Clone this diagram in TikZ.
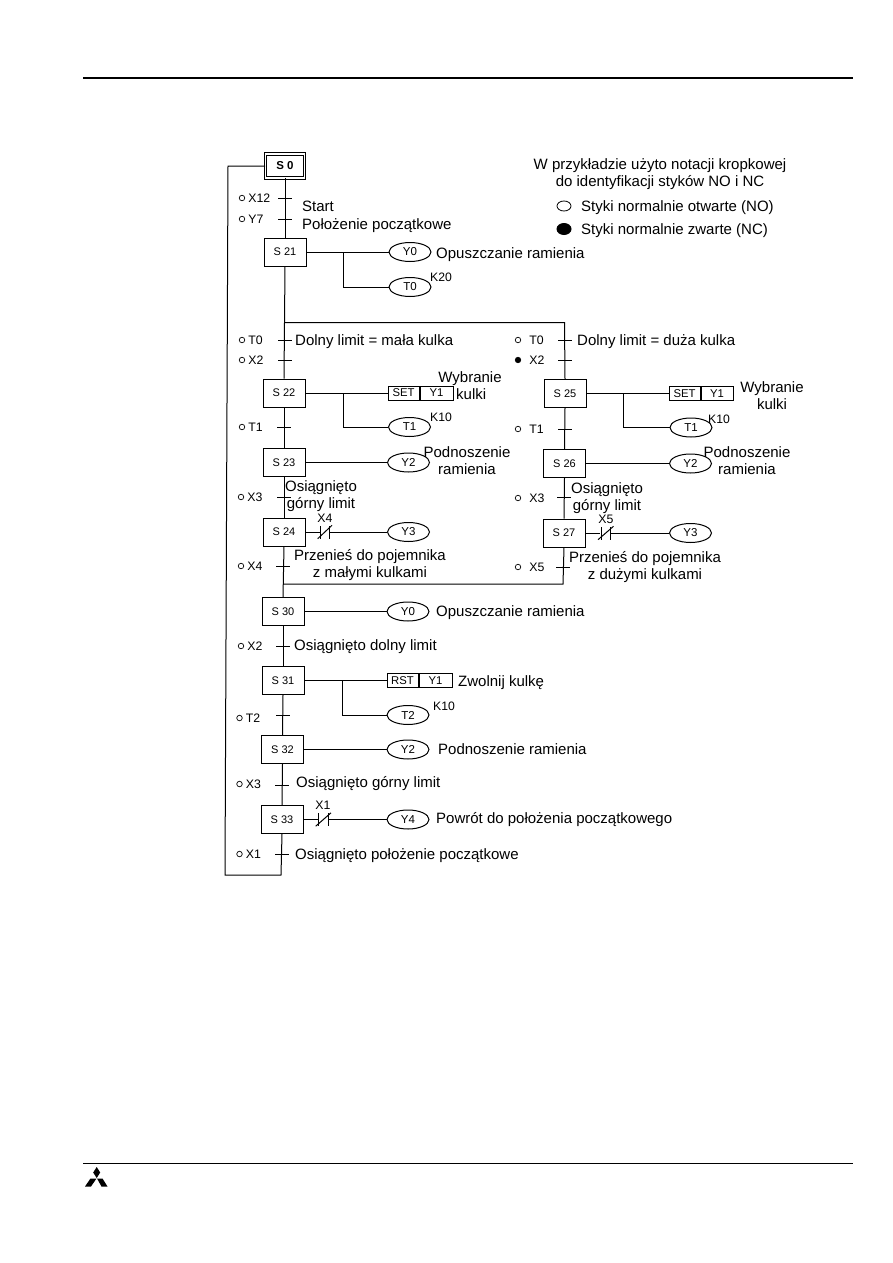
\documentclass[tikz,border=0pt]{standalone}
\usepackage{fontspec}
\setmainfont{Liberation Sans}
\usetikzlibrary{positioning,shapes.geometric}

\tikzset{
stepbox/.style={draw,line width=1pt,minimum width=42pt,minimum height=28pt,inner sep=0pt,font=\fontsize{11}{13}\selectfont},
outoval/.style={draw,ellipse,line width=1pt,minimum width=42pt,minimum height=19pt,inner sep=0pt,font=\fontsize{11.5}{13}\selectfont},
cellbox/.style={draw,line width=1pt,minimum height=14pt,inner sep=0pt,font=\fontsize{11.3}{13}\selectfont},
tickbar/.style={fill=black,minimum width=14pt,minimum height=1pt,inner sep=0pt},
nobar/.style={fill=black,minimum width=1pt,minimum height=13pt,inner sep=0pt},
dotmark/.style={draw,circle,line width=0.7pt,minimum size=5.5pt,inner sep=0pt},
contlbl/.style={inner sep=0pt,font=\fontsize{12.3}{14}\selectfont},
smalltxt/.style={inner sep=0pt,font=\fontsize{12.2}{14}\selectfont},
txt/.style={inner sep=0pt,anchor=west,text height=10.6pt,text depth=3pt,yshift=-1.5pt,font=\fontsize{15}{17}\selectfont},
ctxt/.style={inner sep=0pt,align=center,yshift=-1pt,font=\fontsize{15}{17}\selectfont},
link/.style={line width=1pt}
}

\begin{document}
\begin{tikzpicture}[x=1pt,y=-1pt]

\useasboundingbox (0,0) rectangle (893,1263);

%%%%%%%%%%%%%%%%%%%%%%%%%%%%%%%%%%%%%%%%%%%%%%%%%%%%%%
% PAGE RULES AND LOGO
%%%%%%%%%%%%%%%%%%%%%%%%%%%%%%%%%%%%%%%%%%%%%%%%%%%%%%

\draw[line width=2pt] (83,77.5)--(852.5,77.5);
\draw[line width=1.5pt] (83,1163.3)--(852.5,1163.3);
\fill (96.7,1167)--(100.2,1172.5)--(96.7,1178)--(93.2,1172.5)--cycle;
\fill (90.5,1178.5)--(96.5,1178.5)--(91,1186.5)--(85,1186.5)--cycle;
\fill (97,1178.5)--(102.5,1178.5)--(107.5,1186.5)--(101.5,1186.5)--cycle;

%%%%%%%%%%%%%%%%%%%%%%%%%%%%%%%%%%%%%%%%%%%%%%%%%%%%%%
% LEGEND
%%%%%%%%%%%%%%%%%%%%%%%%%%%%%%%%%%%%%%%%%%%%%%%%%%%%%%

\node[ctxt](legend) at (660,173){W przykładzie użyto notacji kropkowej\\do identyfikacji styków NO i NC};
\node[draw,ellipse,line width=0.8pt,minimum width=14pt,minimum height=10pt,inner sep=0pt](opendot) at (564,206){};
\node[fill=black,ellipse,minimum width=15pt,minimum height=12pt,inner sep=0pt](closeddot) at (564,229){};
\node[txt](openlbl) at (581,206){Styki normalnie otwarte (NO)};
\node[txt](closedlbl) at (581,229){Styki normalnie zwarte (NC)};

%%%%%%%%%%%%%%%%%%%%%%%%%%%%%%%%%%%%%%%%%%%%%%%%%%%%%%
% STEPS
%%%%%%%%%%%%%%%%%%%%%%%%%%%%%%%%%%%%%%%%%%%%%%%%%%%%%%

\node[stepbox,double,double distance=1.5pt,line width=0.9pt,minimum width=39pt,minimum height=24pt,font=\fontsize{11.5}{13}\bfseries\selectfont](s0) at (285,166){S 0};
\node[stepbox](s21) at (285,252){S 21};
\node[stepbox](s22) at (284,393){S 22};
\node[stepbox](s23) at (284,462.5){S 23};
\node[stepbox](s24) at (284,532){S 24};
\node[stepbox](s25) at (565,393.5){S 25};
\node[stepbox](s26) at (564.5,463.5){S 26};
\node[stepbox](s27) at (564,533){S 27};
\node[stepbox](s30) at (283,611.5){S 30};
\node[stepbox](s31) at (283,680.5){S 31};
\node[stepbox](s32) at (282.5,749.5){S 32};
\node[stepbox](s33) at (282,819.5){S 33};

%%%%%%%%%%%%%%%%%%%%%%%%%%%%%%%%%%%%%%%%%%%%%%%%%%%%%%
% TRANSITIONS
%%%%%%%%%%%%%%%%%%%%%%%%%%%%%%%%%%%%%%%%%%%%%%%%%%%%%%

\node[tickbar](tx12) at (285,198){};
\node[tickbar](ty7) at (285,219){};
\node[tickbar](tt0) at (284.5,340){};
\node[tickbar](tx2) at (284.5,360){};
\node[tickbar](tt1) at (284,427){};
\node[tickbar](tx3) at (283.5,497){};
\node[tickbar](tx4) at (283,566){};
\node[tickbar](tx2b) at (283,646){};
\node[tickbar](tt2) at (283,715){};
\node[tickbar](tx3b) at (282,785){};
\node[tickbar](tx1) at (281.5,854){};
\node[tickbar](rt0) at (564.5,340){};
\node[tickbar](rx2) at (564.5,360){};
\node[tickbar](rt1) at (564.5,429){};
\node[tickbar](rx3) at (563.5,497){};
\node[tickbar](rx5) at (563,567){};

\node[dotmark](dx12) at (242,198){};
\node[dotmark](dy7) at (242,219){};
\node[dotmark](dt0) at (242,340){};
\node[dotmark](dx2) at (242,360){};
\node[dotmark](dt1) at (242,427){};
\node[dotmark](dx3) at (241,497){};
\node[dotmark](dx4) at (241,566){};
\node[dotmark](dx2b) at (241,646){};
\node[dotmark](dt2) at (239.5,718){};
\node[dotmark](dx3b) at (239.5,784){};
\node[dotmark](dx1) at (239.5,854){};
\node[dotmark](drt0) at (518,340){};
\node[dotmark,fill=black](drx2) at (518,360){};
\node[dotmark](drt1) at (518,429){};
\node[dotmark](drx3) at (518,498){};
\node[dotmark](drx5) at (518,567){};

\node[contlbl,right=3pt of dx12](lx12){X12};
\node[contlbl,right=3pt of dy7](ly7){Y7};
\node[contlbl,right=3pt of dt0](lt0){T0};
\node[contlbl,right=3pt of dx2](lx2){X2};
\node[contlbl,right=3pt of dt1](lt1){T1};
\node[contlbl,right=3pt of dx3](lx3){X3};
\node[contlbl,right=3pt of dx4](lx4){X4};
\node[contlbl,right=3pt of dx2b](lx2b){X2};
\node[contlbl,right=3pt of dt2](lt2){T2};
\node[contlbl,right=3pt of dx3b](lx3b){X3};
\node[contlbl,right=3pt of dx1](lx1){X1};
\node[contlbl,right=8pt of drt0](lrt0){T0};
\node[contlbl,right=8pt of drx2](lrx2){X2};
\node[contlbl,right=8pt of drt1](lrt1){T1};
\node[contlbl,right=8pt of drx3](lrx3){X3};
\node[contlbl,right=8pt of drx5](lrx5){X5};

%%%%%%%%%%%%%%%%%%%%%%%%%%%%%%%%%%%%%%%%%%%%%%%%%%%%%%
% OUTPUTS
%%%%%%%%%%%%%%%%%%%%%%%%%%%%%%%%%%%%%%%%%%%%%%%%%%%%%%

\node[outoval](y0a) at (410,252){Y0};
\node[outoval](t0) at (410,287){T0};
\node[cellbox,minimum width=31pt](set22) at (403.5,393){SET};
\node[cellbox,minimum width=33pt,right=0pt of set22](y22){Y1};
\node[outoval](t1a) at (409.5,427){T1};
\node[outoval](y2a) at (408.5,462.5){Y2};
\node[outoval](y3a) at (408.5,532){Y3};
\node[cellbox,minimum width=31pt](set25) at (684.5,393.5){SET};
\node[cellbox,minimum width=32pt,right=0pt of set25](y25){Y1};
\node[outoval](t1b) at (691,427.5){T1};
\node[outoval](y2b) at (690.5,463.5){Y2};
\node[outoval](y3b) at (690.5,533){Y3};
\node[outoval](y0b) at (408,611.5){Y0};
\node[cellbox,minimum width=31pt](rst31) at (402.5,680.5){RST};
\node[cellbox,minimum width=33pt,right=0pt of rst31](y31){Y1};
\node[outoval](t2) at (408,715){T2};
\node[outoval](y2c) at (408,749.5){Y2};
\node[outoval](y4) at (408,819.5){Y4};

%%%%%%%%%%%%%%%%%%%%%%%%%%%%%%%%%%%%%%%%%%%%%%%%%%%%%%
% NC CONTACTS
%%%%%%%%%%%%%%%%%%%%%%%%%%%%%%%%%%%%%%%%%%%%%%%%%%%%%%

\node[nobar](x4l) at (320.7,532){};
\node[nobar](x4r) at (329,532){};
\node[contlbl](x4lbl) at (325,518){X4};
\node[nobar](x5l) at (601,533){};
\node[nobar](x5r) at (610.5,533){};
\node[contlbl](x5lbl) at (606,519){X5};
\node[nobar](x1l) at (318.7,819.5){};
\node[nobar](x1r) at (328,819.5){};
\node[contlbl](x1lbl) at (323,805){X1};

\draw[link] ([xshift=-3pt]x4l.south)--([xshift=3pt]x4r.north);
\draw[link] ([xshift=-3pt]x5l.south)--([xshift=3pt]x5r.north);
\draw[link] ([xshift=-3pt]x1l.south)--([xshift=3pt]x1r.north);

%%%%%%%%%%%%%%%%%%%%%%%%%%%%%%%%%%%%%%%%%%%%%%%%%%%%%%
% TEXTS
%%%%%%%%%%%%%%%%%%%%%%%%%%%%%%%%%%%%%%%%%%%%%%%%%%%%%%

\node[txt](tstart) at (302,206){Start};
\node[txt](thome) at (302,224){Położenie początkowe};
\node[txt](tlower) at (436,252.7){Opuszczanie ramienia};
\node[smalltxt,anchor=west](k20) at (430,277){K20};
\node[txt](tsmall) at (295,340){Dolny limit = mała kulka};
\node[txt](tbig) at (577,340){Dolny limit = duża kulka};
\node[ctxt](tpick) at (470,378){Wybranie};
\node[txt](tball) at (456,394){kulki};
\node[ctxt](tpickb) at (772,394.5){Wybranie\\kulki};
\node[smalltxt,anchor=west](k10a) at (430,417){K10};
\node[smalltxt,anchor=west](k10b) at (708,419){K10};
\node[ctxt](traisea) at (467,459.5){Podnoszenie\\ramienia};
\node[ctxt](traiseb) at (747,459.5){Podnoszenie\\ramienia};
\node[ctxt](tupa) at (321,495){Osiągnięto\\górny limit};
\node[ctxt](tupb) at (607,497){Osiągnięto\\górny limit};
\node[ctxt](tmovea) at (370,564.5){Przenieś do pojemnika\\z małymi kulkami};
\node[ctxt](tmoveb) at (645,566.5){Przenieś do pojemnika\\z dużymi kulkami};
\node[txt](tlowerb) at (436,611){Opuszczanie ramienia};
\node[txt](tdown) at (294,645){Osiągnięto dolny limit};
\node[txt](trelease) at (458,681){Zwolnij kulkę};
\node[smalltxt,anchor=west](k10c) at (433,706){K10};
\node[txt](traisec) at (438,749){Podnoszenie ramienia};
\node[txt](tupc) at (296,782){Osiągnięto górny limit};
\node[txt](treturn) at (436,818){Powrót do położenia początkowego};
\node[txt](thomeb) at (295,854){Osiągnięto położenie początkowe};

%%%%%%%%%%%%%%%%%%%%%%%%%%%%%%%%%%%%%%%%%%%%%%%%%%%%%%
% LINES
%%%%%%%%%%%%%%%%%%%%%%%%%%%%%%%%%%%%%%%%%%%%%%%%%%%%%%

\coordinate(forkl) at (285,322.7);
\coordinate(forkr) at (564.5,322.7);
\coordinate(mergel) at (283,584);
\coordinate(merger) at (563,584);
\coordinate(looptop) at (228,166);
\coordinate(loopbot) at (225,875);
\coordinate(loopend) at (281,875);
\coordinate(b21) at (343,252);
\coordinate(b21d) at (343,287);
\coordinate(b22) at (343,393);
\coordinate(b22d) at (343,427);
\coordinate(b25) at (623,393.5);
\coordinate(b25d) at (623,427.5);
\coordinate(b31) at (342,680.5);
\coordinate(b31d) at (342,715);

\draw[link] (s0.south)--(s21.north);
\draw[link] (s21.south)--(s22.north);
\draw[link] (s22.south)--(s23.north);
\draw[link] (s23.south)--(s24.north);
\draw[link] (s24.south)--(s30.north);
\draw[link] (s30.south)--(s31.north);
\draw[link] (s31.south)--(s32.north);
\draw[link] (s32.south)--(s33.north);
\draw[link] (s33.south)--(loopend)--(loopbot)--(looptop)--(s0.west);

\draw[link] (forkl)--(forkr)--(s25.north);
\draw[link] (s25.south)--(s26.north);
\draw[link] (s26.south)--(s27.north);
\draw[link] (s27.south)--(merger)--(mergel);

\draw[link] (s21.east)--(y0a.west);
\draw[link] (b21)--(b21d)--(t0.west);
\draw[link] (s22.east)--(set22.west);
\draw[link] (b22)--(b22d)--(t1a.west);
\draw[link] (s23.east)--(y2a.west);
\draw[link] (s24.east)--(x4l);
\draw[link] (x4r)--(y3a.west);
\draw[link] (s25.east)--(set25.west);
\draw[link] (b25)--(b25d)--(t1b.west);
\draw[link] (s26.east)--(y2b.west);
\draw[link] (s27.east)--(x5l);
\draw[link] (x5r)--(y3b.west);
\draw[link] (s30.east)--(y0b.west);
\draw[link] (s31.east)--(rst31.west);
\draw[link] (b31)--(b31d)--(t2.west);
\draw[link] (s32.east)--(y2c.west);
\draw[link] (s33.east)--(x1l);
\draw[link] (x1r)--(y4.west);

\end{tikzpicture}
\end{document}
